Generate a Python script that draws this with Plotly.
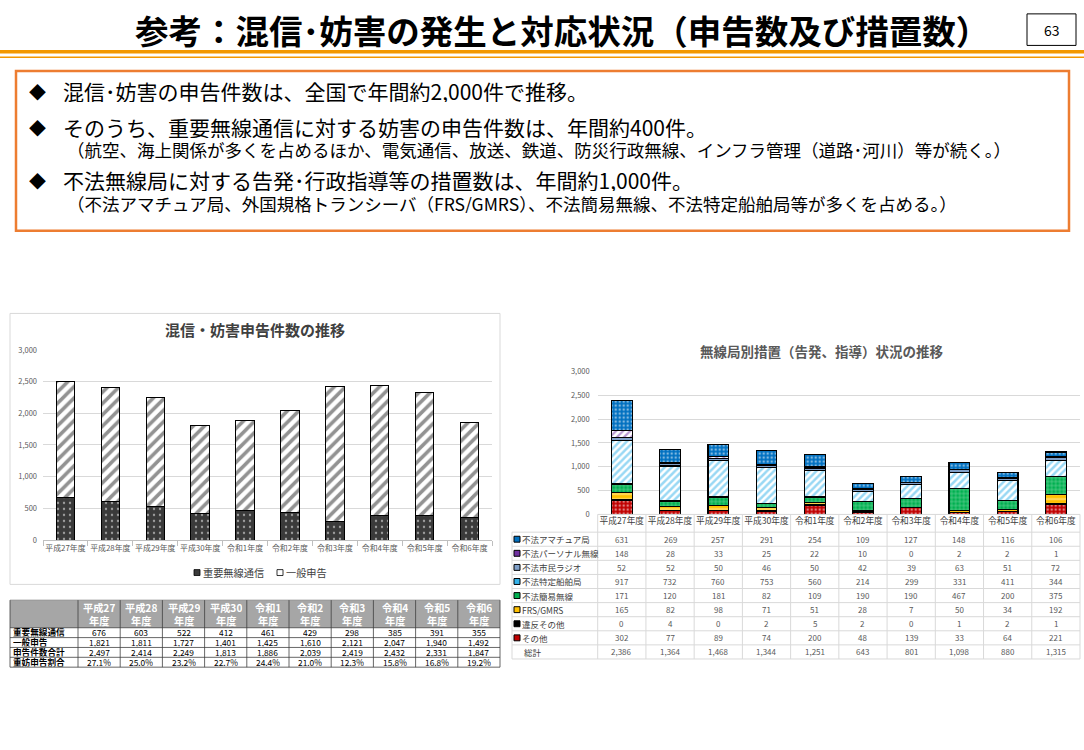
import plotly.graph_objects as go

W, H = 1084, 750
FONT = "Noto Sans CJK JP"


def X(px):
    return px / W


def Y(py):
    return 1 - py / H


# ---------------- data ----------------
years = ["平成27年度", "平成28年度", "平成29年度", "平成30年度", "令和1年度",
         "令和2年度", "令和3年度", "令和4年度", "令和5年度", "令和6年度"]
left_table_headers = ["平成27<br>年度", "平成28<br>年度", "平成29<br>年度", "平成30<br>年度",
                      "令和1<br>年度", "令和2<br>年度", "令和3<br>年度", "令和4<br>年度",
                      "令和5<br>年度", "令和6<br>年度"]

important_comm = [676, 603, 522, 412, 461, 429, 298, 385, 391, 355]
general_reports = [1821, 1811, 1727, 1401, 1425, 1610, 2121, 2047, 1940, 1492]
total_reports = [2497, 2414, 2249, 1813, 1886, 2039, 2419, 2432, 2331, 1847]
important_ratio = ["27.1%", "25.0%", "23.2%", "22.7%", "24.4%", "21.0%", "12.3%", "15.8%", "16.8%", "19.2%"]

amateur = [631, 269, 257, 291, 254, 109, 127, 148, 116, 106]
personal = [148, 28, 33, 25, 22, 10, 0, 2, 2, 1]
citizen_radio = [52, 52, 50, 46, 50, 42, 39, 63, 51, 72]
ship = [917, 732, 760, 753, 560, 214, 299, 331, 411, 344]
simple_radio = [171, 120, 181, 82, 109, 190, 190, 467, 200, 375]
frs_gmrs = [165, 82, 98, 71, 51, 28, 7, 50, 34, 192]
violation_other = [0, 4, 0, 2, 5, 2, 0, 1, 2, 1]
other = [302, 77, 89, 74, 200, 48, 139, 33, 64, 221]
grand_total = [2386, 1364, 1468, 1344, 1251, 643, 801, 1098, 880, 1315]

fig = go.Figure()

# ---------------- left chart ----------------
IMP_PAT = dict(shape=".", fgcolor="#ffffff", bgcolor="#3a3a3a", size=6, solidity=0.12)
GEN_PAT = dict(shape="/", fgcolor="#262626", bgcolor="#ffffff", size=8, solidity=0.45)
fig.add_trace(go.Bar(
    x=years, y=important_comm, name="重要無線通信", xaxis="x", yaxis="y", width=0.41,
    marker=dict(color="#3a3a3a", line=dict(color="#000000", width=1), pattern=IMP_PAT),
    showlegend=False, hoverinfo="name+y"))
fig.add_trace(go.Bar(
    x=years, y=general_reports, name="一般申告", xaxis="x", yaxis="y", width=0.41,
    marker=dict(color="#ffffff", line=dict(color="#000000", width=1), pattern=GEN_PAT),
    showlegend=False, hoverinfo="name+y"))

# ---------------- right chart ----------------
right_series = [
    ("その他", other, dict(shape=".", fgcolor="#ffffff", bgcolor="#c00000", size=4, solidity=0.3), "#c00000"),
    ("違反その他", violation_other, dict(shape="", fgcolor="#000000", bgcolor="#000000"), "#000000"),
    ("FRS/GMRS", frs_gmrs, dict(shape="-", fgcolor="#ffffff", bgcolor="#ffc000", size=5, solidity=0.3), "#ffc000"),
    ("不法簡易無線", simple_radio, dict(shape="+", fgcolor="#ffffff", bgcolor="#00b050", size=4, solidity=0.25), "#00b050"),
    ("不法特定船舶局", ship, dict(shape="/", fgcolor="#33b2ea", bgcolor="#ffffff", size=5, solidity=0.5), "#33b2ea"),
    ("不法市民ラジオ", citizen_radio, dict(shape="", fgcolor="#7f9fc8", bgcolor="#7f9fc8"), "#7f9fc8"),
    ("不法パーソナル無線", personal, dict(shape="/", fgcolor="#7030a0", bgcolor="#ffffff", size=5, solidity=0.45), "#7030a0"),
    ("不法アマチュア局", amateur, dict(shape=".", fgcolor="#ffffff", bgcolor="#0070c0", size=4, solidity=0.3), "#0070c0"),
]
series_colors = {}
for name, vals, pat, col in right_series:
    series_colors[name] = col
    fig.add_trace(go.Bar(
        x=years, y=vals, name=name, xaxis="x2", yaxis="y2", width=0.43,
        marker=dict(color=col, line=dict(color="#000000", width=1.2), pattern=pat),
        showlegend=False, hoverinfo="name+y"))

shapes = []
annotations = []


def line(x0, y0, x1, y1, color, width):
    shapes.append(dict(type="line", xref="paper", yref="paper", x0=X(x0), y0=Y(y0), x1=X(x1), y1=Y(y1),
                       line=dict(color=color, width=width), layer="above"))


def rect(x0, y0, x1, y1, line_color=None, width=1, fill=None, layer="above"):
    shapes.append(dict(type="rect", xref="paper", yref="paper", x0=X(x0), y0=Y(y0), x1=X(x1), y1=Y(y1),
                       line=dict(color=line_color if line_color else "rgba(0,0,0,0)", width=width if line_color else 0),
                       fillcolor=fill if fill else "rgba(0,0,0,0)", layer=layer))


def text(px, py, s, size, color="#000000", anchor="center", bold=False, height=None):
    a = dict(xref="paper", yref="paper", x=X(px), y=Y(py), text=("<b>%s</b>" % s) if bold else s,
             showarrow=False, xanchor=anchor, yanchor="middle", borderpad=0,
             font=dict(family=FONT, size=size, color=color))
    if height:
        a["height"] = height
        a["valign"] = "middle"
    annotations.append(a)


# ---------------- slide header ----------------
text(562, 24, "参考：混信･妨害の発生と対応状況（申告数及び措置数）", 33.5, "#000000", bold=True)
rect(1027, 8, 1076, 40, "#000000", 1)
text(1051.5, 24, "63", 14, "#000000")
line(0, 46.5, W, 46.5, "#f39800", 3.5)
line(0, 52, W, 52, "#f39800", 1.5)

# ---------------- bullet box ----------------
rect(16, 66, 1069, 228, "#ed7d31", 2.5)
bullets = [
    (86, "混信･妨害の申告件数は、全国で年間約2,000件で推移。", None),
    (122.5, "そのうち、重要無線通信に対する妨害の申告件数は、年間約400件。",
     (145.5, "（航空、海上関係が多くを占めるほか、電気通信、放送、鉄道、防災行政無線、インフラ管理（道路･河川）等が続く。）")),
    (176.5, "不法無線局に対する告発･行政指導等の措置数は、年間約1,000件。",
     (199.5, "（不法アマチュア局、外国規格トランシーバ（FRS/GMRS）、不法簡易無線、不法特定船舶局等が多くを占める。）")),
]
for yy, s, sub in bullets:
    text(37, yy, "◆", 17, "#000000", height=22)
    text(62, yy, s, 21, "#000000", anchor="left", height=23)
    if sub:
        text(66, sub[0], sub[1], 17.5, "#000000", anchor="left", height=20)

# ---------------- left chart frame, title, legend ----------------
rect(10, 312, 500, 587, "#d9d9d9", 1, layer="below")
text(255, 328, "混信・妨害申告件数の推移", 15, "#404040", bold=True)
rect(194, 572, 200, 578, "#000000", 0.8, fill="#3a3a3a")
text(202, 575, "重要無線通信", 10.2, "#404040", anchor="left")
rect(277, 572, 283, 578, "#000000", 0.8, fill="#ffffff")
text(285, 575, "一般申告", 10.2, "#404040", anchor="left")

# ---------------- right chart title ----------------
text(821, 350, "無線局別措置（告発、指導）状況の推移", 13.5, "#595959", bold=True)

# ---------------- left table ----------------
lt_x0, lt_c0, lt_x1 = 10, 78, 500
lt_cw = (lt_x1 - lt_c0) / 10
lt_top, lt_hb, lt_rh = 603, 631, 10
rect(lt_x0, lt_top, lt_x1, lt_hb, None, fill="#a6a6a6", layer="below")
left_rows = [
    ("重要無線通信", ["{:,}".format(v) for v in important_comm]),
    ("一般申告", ["{:,}".format(v) for v in general_reports]),
    ("申告件数合計", ["{:,}".format(v) for v in total_reports]),
    ("重妨申告割合", important_ratio),
]
lt_bottom = lt_hb + lt_rh * len(left_rows)
for i, h in enumerate(left_table_headers):
    text(lt_c0 + lt_cw * (i + 0.5), 617, h, 10.2, "#ffffff", bold=True, height=26)
for r, (lab, vals) in enumerate(left_rows):
    cy = lt_hb + lt_rh * (r + 0.5) + 0.3
    text(lt_x0 + 2, cy, lab, 8.6, "#000000", anchor="left", bold=True, height=8.5)
    for i, v in enumerate(vals):
        text(lt_c0 + lt_cw * (i + 0.5), cy, v, 8.4, "#000000", height=8.5)
for r in range(len(left_rows) + 1):
    yy = lt_hb + lt_rh * r
    line(lt_x0, yy, lt_x1, yy, "#404040", 0.8)
line(lt_x0, lt_top, lt_x1, lt_top, "#808080", 0.8)
for k in range(11):
    xx = lt_c0 + lt_cw * k
    line(xx, lt_top, xx, lt_bottom, "#404040", 0.8)
line(lt_x0, lt_top, lt_x0, lt_bottom, "#404040", 0.8)

# ---------------- right table ----------------
rt_x0, rt_c0, rt_x1 = 512, 597.7, 1080
rt_cw = (rt_x1 - rt_c0) / 10
rt_top, rt_hb, rt_rh = 516, 534, 14.3
right_rows = [
    ("不法アマチュア局", amateur),
    ("不法パーソナル無線", personal),
    ("不法市民ラジオ", citizen_radio),
    ("不法特定船舶局", ship),
    ("不法簡易無線", simple_radio),
    ("FRS/GMRS", frs_gmrs),
    ("違反その他", violation_other),
    ("その他", other),
    ("総計", grand_total),
]
rt_bottom = rt_hb + rt_rh * len(right_rows)
GRID = "#d9d9d9"
line(rt_c0, rt_top, rt_x1, rt_top, GRID, 1)
for r in range(len(right_rows) + 1):
    yy = rt_hb + rt_rh * r
    line(rt_x0, yy, rt_x1, yy, GRID, 1)
line(rt_x0, rt_hb, rt_x0, rt_bottom, GRID, 1)
for k in range(11):
    xx = rt_c0 + rt_cw * k
    line(xx, rt_top, xx, rt_bottom, GRID, 1)
for r, (lab, vals) in enumerate(right_rows):
    cy = rt_hb + rt_rh * (r + 0.5)
    if lab in series_colors:
        rect(514, cy - 3, 520, cy + 3, "#000000", 1, fill=series_colors[lab])
        text(521, cy, lab, 8.5, "#404040", anchor="left")
    else:
        text(523, cy, lab, 8.5, "#404040", anchor="left")
    for i, v in enumerate(vals):
        text(rt_c0 + rt_cw * (i + 0.5), cy, "{:,}".format(v), 8, "#595959")

fig.update_layout(
    width=W, height=H,
    margin=dict(l=0, r=0, t=0, b=0),
    paper_bgcolor="#ffffff", plot_bgcolor="rgba(0,0,0,0)",
    barmode="stack",
    showlegend=False,
    font=dict(family=FONT, color="#404040"),
    xaxis=dict(domain=[X(43), X(492)], anchor="y", type="category", tickangle=0,
               tickfont=dict(size=7.9, color="#595959", family=FONT),
               showline=True, linecolor="#bfbfbf", linewidth=1,
               ticks="outside", tickson="boundaries", ticklen=5, tickcolor="#bfbfbf",
               showgrid=False, fixedrange=True),
    yaxis=dict(domain=[Y(542), Y(349)], anchor="x", range=[0, 3000], dtick=500, tickformat=",",
               gridcolor="#d9d9d9", gridwidth=1, zeroline=False, showline=False,
               tickfont=dict(size=7.5, color="#595959", family=FONT), ticklabelstandoff=5, fixedrange=True),
    xaxis2=dict(domain=[X(rt_c0), X(rt_x1)], anchor="y2", type="category", tickangle=0,
                tickfont=dict(size=8.7, color="#404040", family=FONT),
                showline=False, ticks="", showgrid=False, fixedrange=True),
    yaxis2=dict(domain=[Y(516), Y(371)], anchor="x2", range=[0, 3000], dtick=500, tickformat=",",
                gridcolor="#d9d9d9", gridwidth=1, zeroline=False, showline=False,
                tickfont=dict(size=7.5, color="#595959", family=FONT), ticklabelstandoff=7, fixedrange=True),
    shapes=shapes,
    annotations=annotations,
)

fig.write_html("out.html")
